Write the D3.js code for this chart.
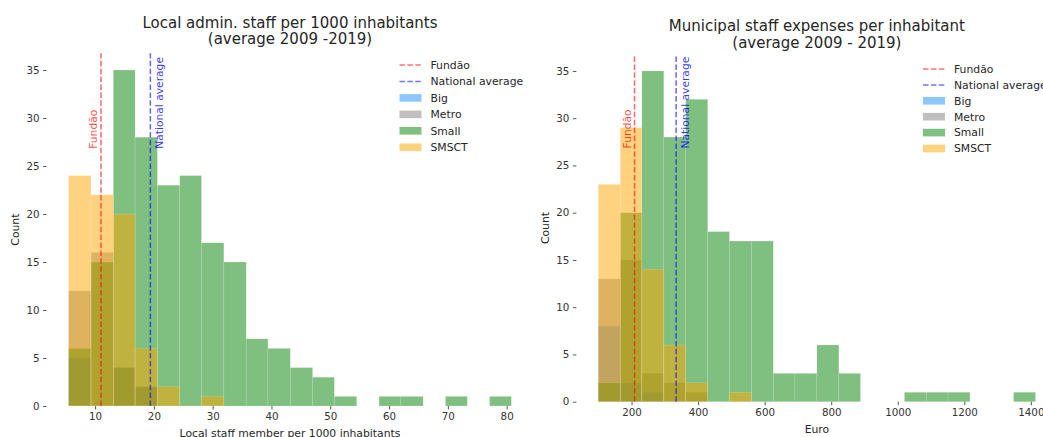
<!DOCTYPE html>
<html>
<head>
<meta charset="utf-8">
<script src="https://cdn.jsdelivr.net/npm/d3@7"></script>
<style>
  body { margin: 0; background: #fff; }
  text { font-family: "DejaVu Sans", sans-serif; fill: #262626; }
</style>
</head>
<body>
<script>
// groups, in drawing order (matplotlib layers them this way)
var groups = ["Big", "Metro", "Small", "SMSCT"];
var groupColors = ["dodgerblue", "grey", "green", "orange"];

// left panel: staff per 1000 inhabitants
var staffEdges = [5.5, 9.3, 13.1, 16.8, 20.6, 24.4, 28.1, 31.9, 35.7, 39.4, 43.2,
                  47.0, 50.7, 54.5, 58.3, 62.0, 65.8, 69.6, 73.3, 77.1, 80.8];
var staffBig   = [5, 0, 4, 2, 0, 0, 0, 0, 0, 0, 0, 0, 0, 0, 0, 0, 0, 0, 0, 0];
var staffMetro = [12, 16, 4, 2, 0, 0, 0, 0, 0, 0, 0, 0, 0, 0, 0, 0, 0, 0, 0, 0];
var staffSmall = [6, 15, 35, 28, 23, 24, 17, 15, 7, 6, 4, 3, 1, 0, 1, 1, 0, 1, 0, 1];
var staffSmsct = [24, 22, 20, 6, 2, 0, 1, 0, 0, 0, 0, 0, 0, 0, 0, 0, 0, 0, 0, 0];
var staffFundao = 11.0;
var staffNational = 19.4;
var staffTicks = [10, 20, 30, 40, 50, 60, 70, 80];

// right panel: staff expenses per inhabitant (euro)
var euroEdges = [100, 166, 231, 297, 363, 429, 494, 560, 626, 691, 757,
                 823, 888, 954, 1020, 1086, 1151, 1217, 1283, 1348, 1414];
var euroBig   = [8, 2, 1, 0, 0, 0, 0, 0, 0, 0, 0, 0, 0, 0, 0, 0, 0, 0, 0, 0];
var euroMetro = [13, 15, 3, 2, 1, 0, 0, 0, 0, 0, 0, 0, 0, 0, 0, 0, 0, 0, 0, 0];
var euroSmall = [2, 20, 35, 28, 32, 18, 17, 17, 3, 3, 6, 3, 0, 0, 1, 1, 1, 0, 0, 1];
var euroSmsct = [23, 29, 14, 6, 2, 0, 1, 0, 0, 0, 0, 0, 0, 0, 0, 0, 0, 0, 0, 0];
var euroFundao = 209;
var euroNational = 334;
var euroTicks = [200, 400, 600, 800, 1000, 1200, 1400];

var countTicks = [0, 5, 10, 15, 20, 25, 30, 35];

var svg = d3.select("body").append("svg")
	.attr("width", 1043)
	.attr("height", 437);

function drawPanel(p) {
	var lo = p.edges[0], hi = p.edges[p.edges.length - 1];
	var pad = (hi - lo) * 0.05;
	var x = d3.scaleLinear().domain([lo - pad, hi + pad]).range([p.left, p.right]);
	var y = d3.scaleLinear().domain([0, 35 * 1.05]).range([p.bottom, p.top]);
	var g = svg.append("g");

	// histogram bars
	p.series.forEach(function (counts, k) {
		var bins = counts.map(function (c, i) { return {c: c, x0: p.edges[i], x1: p.edges[i + 1]}; })
			.filter(function (b) { return b.c > 0; });
		g.selectAll(null).data(bins).enter().append("rect")
			.attr("x", function (b) { return x(b.x0); })
			.attr("width", function (b) { return x(b.x1) - x(b.x0); })
			.attr("y", function (b) { return y(b.c); })
			.attr("height", function (b) { return y(0) - y(b.c); })
			.attr("fill", groupColors[k])
			.attr("fill-opacity", 0.5)
			.attr("stroke", "#fff")
			.attr("stroke-opacity", 0.3)
			.attr("stroke-width", 0.5);
	});

	// reference lines
	var refs = [{v: p.fundao, c: "red", t: "Fundão", side: -1},
	            {v: p.national, c: "blue", t: "National average", side: 1}];
	refs.forEach(function (r) {
		g.append("line")
			.attr("x1", x(r.v)).attr("x2", x(r.v))
			.attr("y1", y.range()[0]).attr("y2", y.range()[1])
			.attr("stroke", r.c).attr("stroke-opacity", 0.6)
			.attr("stroke-width", 1.5).attr("stroke-dasharray", "5.5,2.4");
		var tx = r.side < 0 ? x(r.v) - 4 : x(r.v) + 12.5;
		g.append("text")
			.attr("transform", "translate(" + tx + "," + y(26.8) + ") rotate(-90)")
			.style("font-size", "10.7px")
			.style("fill", r.c)
			.style("fill-opacity", r.c == "red" ? 0.75 : 0.8)
			.text(r.t);
	});

	// axes
	var xAxis = g.append("g")
		.attr("transform", "translate(0," + p.bottom + ")")
		.call(d3.axisBottom(x).tickValues(p.ticks).tickFormat(d3.format("d"))
			.tickSize(3.5).tickPadding(3.5));
	var yAxis = g.append("g")
		.attr("transform", "translate(" + p.left + ",0)")
		.call(d3.axisLeft(y).tickValues(countTicks).tickFormat(d3.format("d"))
			.tickSize(3.5).tickPadding(3.5));
	[xAxis, yAxis].forEach(function (a) {
		a.select(".domain").remove();
		a.selectAll(".tick line").attr("stroke", "#555");
		a.selectAll(".tick text").style("font-size", "10.3px")
			.style("font-family", "DejaVu Sans").style("fill", "#333");
	});

	// titles and labels
	var cx = (p.left + p.right) / 2;
	g.append("text").attr("x", cx).attr("y", p.titleY).attr("text-anchor", "middle")
		.style("font-size", "15px").text(p.title[0]);
	g.append("text").attr("x", cx).attr("y", p.titleY + 16.7).attr("text-anchor", "middle")
		.style("font-size", "15px").text(p.title[1]);
	g.append("text").attr("x", cx).attr("y", p.xlabelY).attr("text-anchor", "middle")
		.style("font-size", "10.8px").text(p.xlabel);
	g.append("text")
		.attr("transform", "translate(" + p.ylabelX + "," + ((p.top + p.bottom) / 2) + ") rotate(-90)")
		.attr("text-anchor", "middle").style("font-size", "10.8px").text("Count");

	// legend
	var items = [{t: "Fundão", line: "red"}, {t: "National average", line: "blue"}]
		.concat(groups.map(function (n, k) { return {t: n, fill: groupColors[k]}; }));
	items.forEach(function (it, i) {
		var ly = p.legY + i * p.legStep;
		if (it.line) {
			g.append("line").attr("x1", p.legX).attr("x2", p.legX + 22)
				.attr("y1", ly).attr("y2", ly)
				.attr("stroke", it.line).attr("stroke-opacity", 0.55)
				.attr("stroke-width", 1.5).attr("stroke-dasharray", "5.5,2.4");
		} else {
			g.append("rect").attr("x", p.legX).attr("y", ly - 3.8)
				.attr("width", 22).attr("height", 7.6)
				.attr("fill", it.fill).attr("fill-opacity", 0.5);
		}
		g.append("text").attr("x", p.legX + 31).attr("y", ly).attr("dy", "0.36em")
			.style("font-size", "10.8px").text(it.t);
	});
}

drawPanel({
	edges: staffEdges,
	series: [staffBig, staffMetro, staffSmall, staffSmsct],
	fundao: staffFundao, national: staffNational, ticks: staffTicks,
	left: 46.5, right: 533.5, top: 53.2, bottom: 406,
	title: ["Local admin. staff per 1000 inhabitants", "(average 2009 -2019)"],
	titleY: 27.7, xlabel: "Local staff member per 1000 inhabitants", xlabelY: 436.5, ylabelX: 18.5,
	legX: 399.5, legY: 65, legStep: 16.45
});

drawPanel({
	edges: euroEdges,
	series: [euroBig, euroMetro, euroSmall, euroSmsct],
	fundao: euroFundao, national: euroNational, ticks: euroTicks,
	left: 576.4, right: 1057.4, top: 54.4, bottom: 401.7,
	title: ["Municipal staff expenses per inhabitant", "(average 2009 - 2019)"],
	titleY: 31, xlabel: "Euro", xlabelY: 433.3, ylabelX: 549,
	legX: 923, legY: 69, legStep: 15.9
});
</script>
</body>
</html>
